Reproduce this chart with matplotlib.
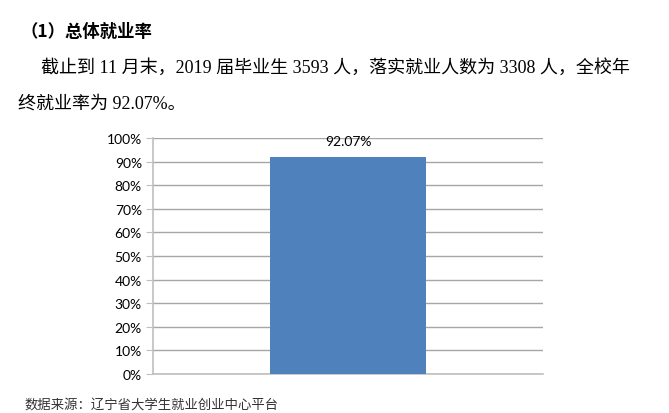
import matplotlib
matplotlib.use('Agg')
import matplotlib.pyplot as plt
import numpy as np

# data
categories = ['总体就业率']
rates = [92.07]
ticks = list(range(0, 101, 10))
tick_labels = [f'{t}%' for t in ticks]

title = '（1）总体就业率'
para1 = '截止到 11 月末，2019 届毕业生 3593 人，落实就业人数为 3308 人，全校年'
para2 = '终就业率为 92.07%。'
source = '数据来源：辽宁省大学生就业创业中心平台'

plt.rcParams['font.family'] = ['Noto Sans CJK SC', 'DejaVu Sans']

fig = plt.figure(figsize=(6.69, 4.14), dpi=100)
ax = fig.add_axes([0.2287, 0.0942, 0.583, 0.570])

x = np.arange(len(categories))
bars = ax.bar(x, rates, width=0.4, color='#4F81BD', zorder=3)
ax.set_xlim(-0.5, 0.5)
ax.set_ylim(0, 100)
ax.set_yticks(ticks)
ax.set_yticklabels(tick_labels, fontfamily='Lato', fontsize=10)
ax.set_xticks([])

ax.grid(axis='y', color='#A6A6A6', linewidth=1, zorder=0)
for s in ['top', 'right']:
    ax.spines[s].set_visible(False)
ax.spines['left'].set_color('#BFBFBF')
ax.spines['bottom'].set_color('#BFBFBF')
ax.spines['left'].set_linewidth(1.2)
ax.spines['bottom'].set_linewidth(1.2)
ax.tick_params(axis='y', length=5, color='#BFBFBF', pad=3)

for b, v in zip(bars, rates):
    ax.annotate(f'{v:.2f}%', (b.get_x() + b.get_width() / 2, v),
                xytext=(0, 7), textcoords='offset points',
                ha='center', va='bottom', fontfamily='Lato', fontsize=10)

serif = ['Liberation Serif', 'Noto Sans CJK SC']
fig.text(20 / 669, 1 - 32 / 414, title, fontsize=12.5, fontweight='bold',
         va='center', ha='left')
fig.text(41 / 669, 1 - 68 / 414, para1, fontsize=13, family=serif,
         va='center', ha='left')
fig.text(18 / 669, 1 - 104 / 414, para2, fontsize=13, family=serif,
         va='center', ha='left')
fig.text(25 / 669, 1 - 405 / 414, source, fontsize=9.6, color='#333333',
         va='center', ha='left')

fig.savefig('out.png', dpi=100)
